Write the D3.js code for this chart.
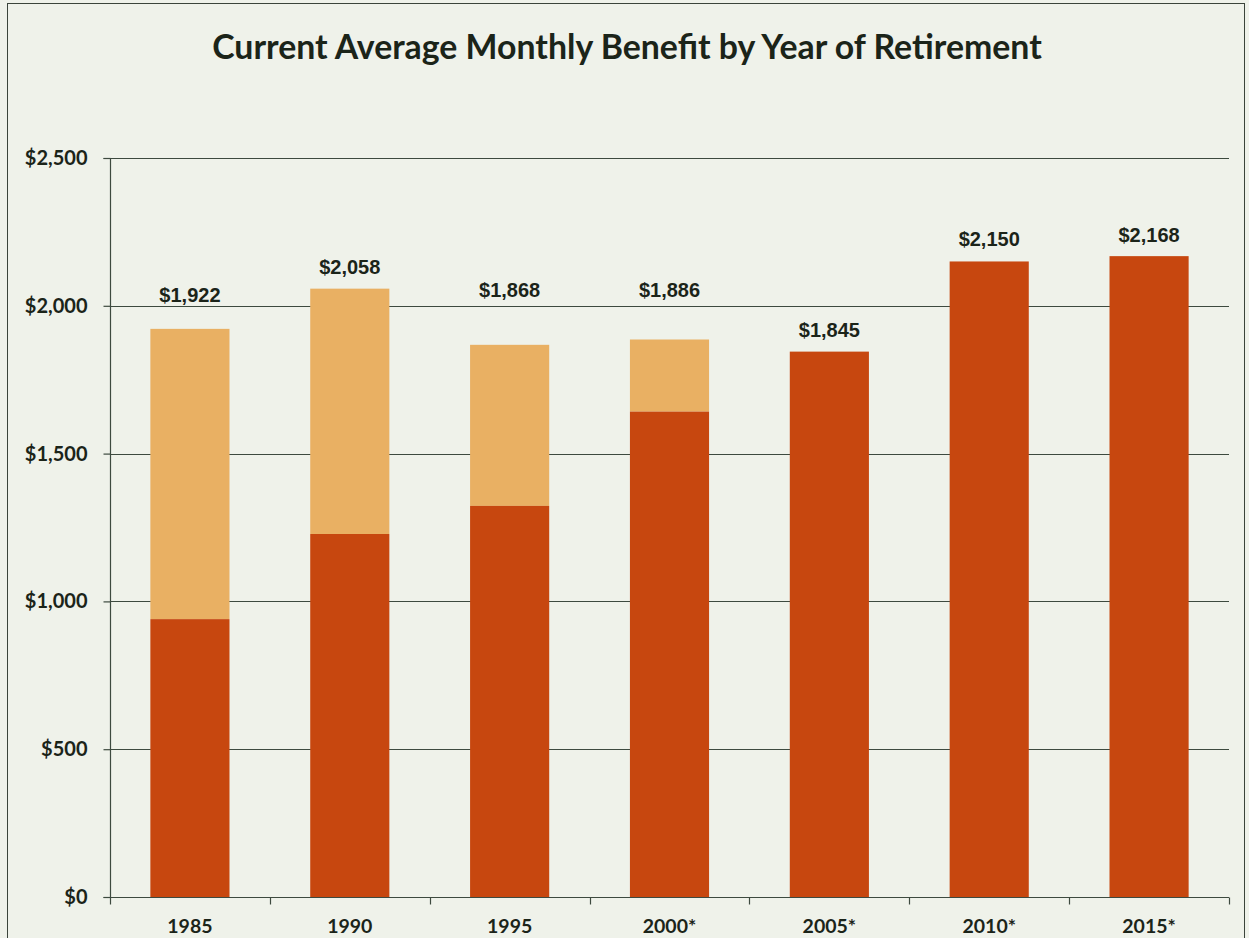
<!DOCTYPE html>
<html><head><meta charset="utf-8">
<script src="https://cdn.jsdelivr.net/npm/d3@7"></script>
<style>
html,body{margin:0;padding:0;background:#eff2ea;}
svg{display:block;}
</style></head>
<body>
<script>
const years = ["1985","1990","1995","2000*","2005*","2010*","2015*"];
const baseValues = [940, 1228, 1323, 1642, 1845, 2150, 2168];
const totalValues = [1922, 2058, 1868, 1886, 1845, 2150, 2168];
const labelTexts = ["$1,922","$2,058","$1,868","$1,886","$1,845","$2,150","$2,168"];
const yTicks = [0, 500, 1000, 1500, 2000, 2500];
const titleText = "Current Average Monthly Benefit by Year of Retirement";
// extra lift of the value labels above the bar tops (px), as placed in the original
const labelLift = [34, 22, 55, 50, 22, 23, 22];

const W = 1249, H = 938;
const svg = d3.select("body").append("svg").attr("width", W).attr("height", H);
svg.append("rect").attr("width", W).attr("height", H).attr("fill", "#eff2ea");
svg.append("rect").attr("x", 7.5).attr("y", 3.5).attr("width", 1237).attr("height", H)
  .attr("fill", "none").attr("stroke", "#3b443b").attr("stroke-width", 1);

const x0 = 110, x1 = 1229, yTop = 158, yBot = 897;
const x = d3.scaleBand().domain(years).range([x0, x1]).paddingInner(0.505).paddingOuter(0.2525);
const y = d3.scaleLinear().domain([0, 2500]).range([yBot, yTop]);

const gridColor = "#3d4a3f";
svg.append("g").selectAll("line").data(yTicks.filter(d => d > 0)).join("line")
  .attr("x1", x0).attr("x2", x1).attr("y1", d => Math.round(y(d)) + 0.5).attr("y2", d => Math.round(y(d)) + 0.5)
  .attr("stroke", gridColor).attr("stroke-width", 1.2);

const darkColor = "#c7470f", lightColor = "#e9b063";
const bars = svg.append("g");
bars.selectAll("rect.top").data(years).join("rect").attr("class", "top")
  .attr("x", d => x(d)).attr("width", x.bandwidth())
  .attr("y", (d, i) => y(totalValues[i])).attr("height", (d, i) => y(baseValues[i]) - y(totalValues[i]))
  .attr("fill", lightColor);
bars.selectAll("rect.base").data(years).join("rect").attr("class", "base")
  .attr("x", d => x(d)).attr("width", x.bandwidth())
  .attr("y", (d, i) => y(baseValues[i])).attr("height", (d, i) => y(0) - y(baseValues[i]))
  .attr("fill", darkColor);

const yAxis = d3.axisLeft(y).tickValues(yTicks).tickSize(7).tickPadding(16)
  .tickFormat(d => "$" + d3.format(",")(d));
const gy = svg.append("g").attr("transform", `translate(${x0 + 0.5},0)`).call(yAxis);
gy.select(".domain").attr("stroke", gridColor).attr("stroke-width", 1.2).attr("d", `M-7,${yTop + 0.5}H0V${yBot + 0.5}H-7`);
gy.selectAll(".tick line").attr("stroke", gridColor).attr("stroke-width", 1.2);
gy.selectAll(".tick text").attr("font-family", "Lato, 'Open Sans', sans-serif").attr("font-weight", "bold")
  .attr("font-size", 20).attr("fill", "#1b2419");

const xAxis = d3.axisBottom(x).tickSize(0).tickPadding(22);
const gx = svg.append("g").attr("transform", `translate(0,${yBot + 0.5})`).call(xAxis);
gx.select(".domain").attr("stroke", gridColor).attr("stroke-width", 1.2).attr("d", `M${x0},0H${x1}`);
gx.selectAll(".tick text").attr("font-family", "Lato, 'Open Sans', sans-serif").attr("font-weight", "bold")
  .attr("font-size", 19.5).attr("fill", "#1b2419");
const bounds = years.map(d => x(d) - x.step() * x.paddingInner() / 2).concat([x1]);
gx.append("g").selectAll("line").data(bounds).join("line")
  .attr("x1", d => Math.round(d) + 0.5).attr("x2", d => Math.round(d) + 0.5).attr("y1", 0).attr("y2", 7)
  .attr("stroke", gridColor).attr("stroke-width", 1.2);

svg.append("g").selectAll("text").data(years).join("text")
  .attr("x", d => x(d) + x.bandwidth() / 2)
  .attr("y", (d, i) => y(totalValues[i]) - labelLift[i] + 7.5)
  .attr("text-anchor", "middle")
  .attr("font-family", "'Liberation Sans', Arial, sans-serif").attr("font-weight", "bold")
  .attr("font-size", 20).attr("fill", "#1b2419")
  .text((d, i) => labelTexts[i]);

const title = svg.append("text").attr("x", 627).attr("y", 59).attr("text-anchor", "middle")
  .attr("font-family", "Lato, 'Open Sans', sans-serif").attr("font-weight", "bold")
  .attr("font-size", 32).attr("fill", "#1b2419").text(titleText);
const tw = title.node().getComputedTextLength();
title.attr("font-size", 32 * 830 / tw);
</script>
</body></html>
